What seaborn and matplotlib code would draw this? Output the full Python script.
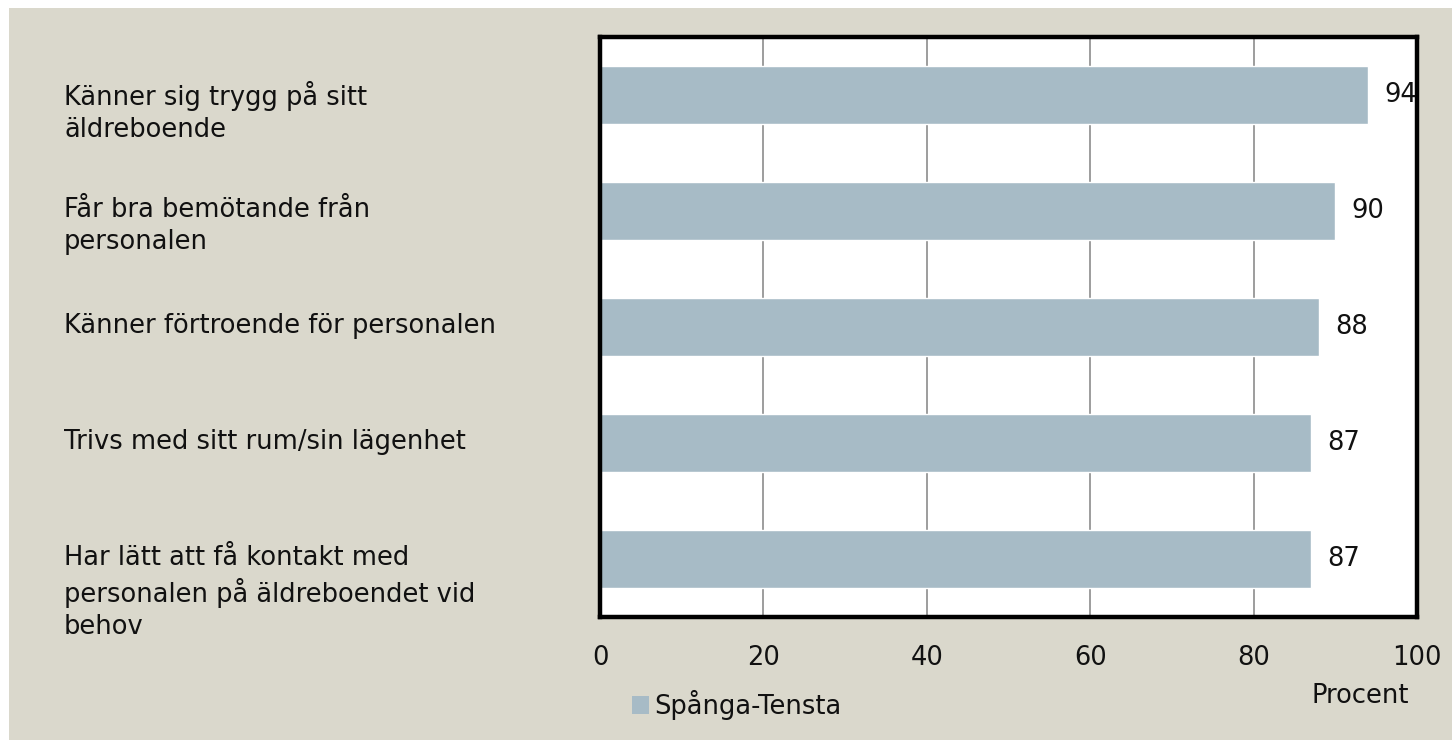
import pandas as pd
import seaborn as sns
import matplotlib.pyplot as plt
from matplotlib.patches import Rectangle
from matplotlib.transforms import blended_transform_factory

# Data
categories = [
    "Känner sig trygg på sitt\näldreboende",
    "Får bra bemötande från\npersonalen",
    "Känner förtroende för personalen",
    "Trivs med sitt rum/sin lägenhet",
    "Har lätt att få kontakt med\npersonalen på äldreboendet vid\nbehov",
]
values = [94, 90, 88, 87, 87]
series_name = "Spånga-Tensta"
x_ticks = [0, 20, 40, 60, 80, 100]

bar_color = "#A7BBC6"
bg_color = "#DAD8CC"

df = pd.DataFrame({"Kategori": categories, "Procent": values, "Serie": series_name})

sns.set_style("white")
plt.rcParams['font.family'] = ['DejaVu Sans']
fs = 18.5

fig = plt.figure(figsize=(14.52, 7.40), dpi=100, facecolor="white")
fig.patches.append(Rectangle((9 / 1452, 0), 1, 1 - 8 / 740, transform=fig.transFigure,
                             facecolor=bg_color, edgecolor="none", zorder=-10))

ax = fig.add_axes([600 / 1452, 1 - 617 / 740, 817 / 1452, 580 / 740])
sns.barplot(data=df, y="Kategori", x="Procent", hue="Serie", palette=[bar_color],
            width=0.5, ax=ax, legend=True, saturation=1)

ax.set_xlim(0, 100)
ax.set_xticks(x_ticks)
ax.set_xticklabels([str(t) for t in x_ticks], fontsize=fs, color="#111111")
ax.tick_params(axis="x", length=0, pad=20)
ax.set_yticks([])
ax.set_ylabel("")
ax.set_xlabel("")
ax.set_facecolor("white")
ax.xaxis.grid(True, color="#8C8C8C", linewidth=1.2)
ax.set_axisbelow(True)
for s in ax.spines.values():
    s.set_visible(True)
    s.set_color("black")
    s.set_linewidth(3.2)

# value labels
for i, v in enumerate(values):
    ax.annotate(str(v), xy=(v, i), xytext=(16, 0), textcoords="offset pixels",
                ha="left", va="center", fontsize=fs, color="#111111")

# category labels, left aligned, first line at the bar centre
trans = blended_transform_factory(fig.transFigure, ax.transData)
for i, c in enumerate(categories):
    ax.text(64 / 1452, i - 0.12, c, transform=trans, ha="left", va="top",
            fontsize=fs, linespacing=1.3, color="#111111")

# legend
handles, labels = ax.get_legend_handles_labels()
ax.get_legend().remove()
for h in handles:
    h.set_edgecolor("none")
fig.legend(handles, labels, loc="center left", bbox_to_anchor=(609 / 1452, 1 - 705 / 740),
           frameon=False, fontsize=fs, handlelength=0.65, handleheight=0.65, handletextpad=0.2,
           labelcolor="#111111")

fig.text(1360 / 1452, 1 - 696 / 740, "Procent", ha="center", va="center", fontsize=fs,
         color="#111111")

fig.savefig("out.png", dpi=100, facecolor=fig.get_facecolor())
